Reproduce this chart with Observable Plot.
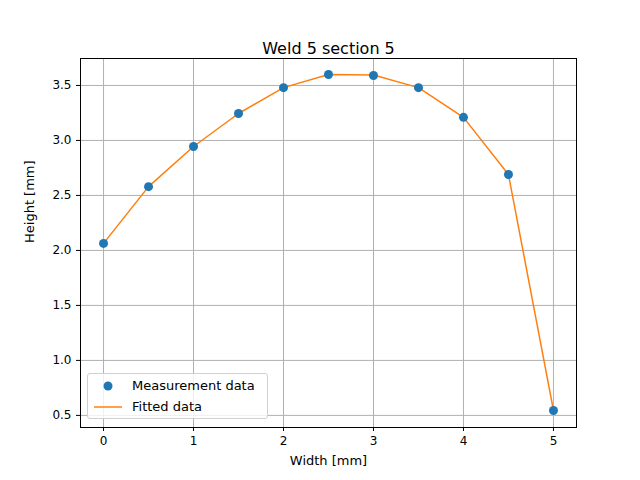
<!DOCTYPE html>
<html><head><meta charset="utf-8">
<script src="https://cdn.jsdelivr.net/npm/d3@7"></script>
<script src="https://cdn.jsdelivr.net/npm/@observablehq/plot@0.6"></script>
<style>
body{margin:0;background:#fff;font-family:"DejaVu Sans",sans-serif}
#wrap{position:relative;width:640px;height:480px}
#legend{position:absolute;left:87px;top:373px;width:181px;height:46px;border:1px solid #d0d0d0;border-radius:3px;background:rgba(255,255,255,0.8);font-size:13px;box-sizing:border-box}
.row{position:absolute;left:6px;display:flex;align-items:center}
.row span{margin-left:10px}
</style></head><body>
<div id="wrap"><div id="chart"></div>
<div id="legend">
<div class="row" style="top:4px"><svg width="28" height="14"><circle cx="14" cy="7" r="4.5" fill="#1f77b4"/></svg><span>Measurement data</span></div>
<div class="row" style="top:25px"><svg width="28" height="14"><line x1="0" x2="28" y1="7" y2="7" stroke="#ff7f0e" stroke-width="1.5"/></svg><span>Fitted data</span></div>
</div></div>
<script>
const widths = [0, 0.5, 1, 1.5, 2, 2.5, 3, 3.5, 4, 4.5, 5];
const measured = [2.064, 2.58, 2.945, 3.245, 3.48, 3.60, 3.59, 3.48, 3.21, 2.69, 0.545];
const fitted = [2.064, 2.58, 2.945, 3.245, 3.48, 3.60, 3.595, 3.48, 3.21, 2.69, 0.545];
const xTicks = [0, 1, 2, 3, 4, 5];
const yTicks = [0.5, 1.0, 1.5, 2.0, 2.5, 3.0, 3.5];

const meas = widths.map((w, i) => ({w, h: measured[i]}));
const fit = widths.map((w, i) => ({w, h: fitted[i]}));

const chart = Plot.plot({
  width: 640, height: 480,
  marginLeft: 80, marginRight: 64, marginTop: 58, marginBottom: 53,
  style: {fontFamily: "DejaVu Sans", fontSize: "12px", color: "#000"},
  x: {domain: [-0.256, 5.256], ticks: xTicks, tickFormat: d3.format("d"), label: null, tickSize: 4},
  y: {domain: [0.39, 3.745], ticks: yTicks, tickFormat: d3.format(".1f"), label: null, tickSize: 4},
  marks: [
    Plot.gridX(xTicks, {stroke: "#b0b0b0", strokeOpacity: 1}),
    Plot.gridY(yTicks, {stroke: "#b0b0b0", strokeOpacity: 1}),
    Plot.axisX({ticks: xTicks, tickFormat: d3.format("d"), label: null, tickSize: 4}),
    Plot.axisY({ticks: yTicks, tickFormat: d3.format(".1f"), label: null, tickSize: 4}),
    Plot.line(fit, {x: "w", y: "h", stroke: "#ff7f0e", strokeWidth: 1.5}),
    Plot.dot(meas, {x: "w", y: "h", r: 4.5, fill: "#1f77b4"}),
    Plot.frame({stroke: "#000"}),
    Plot.text(["Weld 5 section 5"], {frameAnchor: "top", dy: -16, fontSize: 16}),
    Plot.text(["Width [mm]"], {frameAnchor: "bottom", dy: 37, fontSize: 13}),
    Plot.text(["Height [mm]"], {frameAnchor: "left", dx: -51, rotate: -90, fontSize: 13})
  ]
});
document.getElementById("chart").append(chart);
</script></body></html>
